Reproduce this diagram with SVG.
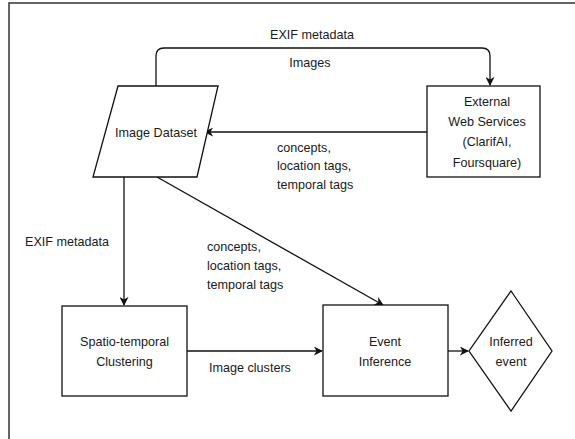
<svg xmlns="http://www.w3.org/2000/svg" width="575" height="439" viewBox="0 0 575 439">
<style>
.n{fill:#fff;stroke:#111;stroke-width:1.3}
.c{fill:none;stroke:#111;stroke-width:1.3}
text{font-family:"Liberation Sans",Arial,sans-serif;font-size:12.6px;fill:#1a1a1a}
.m{text-anchor:middle}
</style>
<defs>
<marker id="a" viewBox="0 0 10 10" refX="9" refY="5" markerWidth="9" markerHeight="9" markerUnits="userSpaceOnUse" orient="auto">
<path d="M0,0 L10,5 L0,10 L3,5 Z" fill="#111"/>
</marker>
</defs>
<rect x="9" y="3" width="580" height="450" fill="#fff" stroke="#333" stroke-width="1.5"/>
<g id="connectors">
<path class="c" d="M156,86 V56 Q156,48 164,48 H482 Q490,48 490,56 V85" marker-end="url(#a)"/>
<path class="c" d="M427,132 H205" marker-end="url(#a)"/>
<path class="c" d="M124,177 V305" marker-end="url(#a)"/>
<path class="c" d="M157,177 L383,305" marker-end="url(#a)"/>
<path class="c" d="M187,351 H322" marker-end="url(#a)"/>
<path class="c" d="M448,351 H468" marker-end="url(#a)"/>
</g>
<g id="labels">
<text class="m" x="312" y="39">EXIF metadata</text>
<text class="m" x="310" y="67">Images</text>
<text x="277" y="152">concepts,</text>
<text x="277" y="170">location tags,</text>
<text x="277" y="189">temporal tags</text>
<text x="25" y="246">EXIF metadata</text>
<text x="207" y="251">concepts,</text>
<text x="207" y="270">location tags,</text>
<text x="207" y="289">temporal tags</text>
<text x="209" y="372">Image clusters</text>
</g>
<g id="image-dataset">
<polygon class="n" points="118,86 218,86 197,177 93,177"/>
<text class="m" x="156" y="137">Image Dataset</text>
</g>
<g id="external">
<rect class="n" x="427" y="86" width="113" height="91"/>
<text class="m" x="487" y="106">External</text>
<text class="m" x="487" y="126">Web Services</text>
<text class="m" x="487" y="146">(ClarifAI,</text>
<text class="m" x="487" y="167">Foursquare)</text>
</g>
<g id="clustering">
<rect class="n" x="62" y="306" width="125" height="90"/>
<text class="m" x="124.5" y="346">Spatio-temporal</text>
<text class="m" x="124.5" y="366">Clustering</text>
</g>
<g id="event-inference">
<rect class="n" x="323" y="305" width="125" height="91"/>
<text class="m" x="385" y="346">Event</text>
<text class="m" x="385" y="366">Inference</text>
</g>
<g id="inferred-event">
<polygon class="n" points="511,291 552,351 511,411 469,351"/>
<text class="m" x="511" y="346">Inferred</text>
<text class="m" x="511" y="366">event</text>
</g>
</svg>
